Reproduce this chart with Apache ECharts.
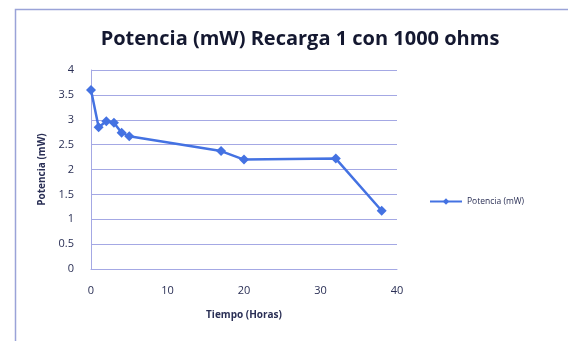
<!DOCTYPE html>
<html><head><meta charset="utf-8">
<script src="https://cdn.jsdelivr.net/npm/echarts@6/dist/echarts.min.js"></script>
<style>html,body{margin:0;padding:0;background:#fff}#c{width:568px;height:341px}</style>
</head><body><div id="c"></div>
<script>
const hours = [0, 1, 2, 3, 4, 5, 17, 20, 32, 38];
const power = [3.6, 2.85, 2.97, 2.94, 2.74, 2.67, 2.37, 2.2, 2.22, 1.17];
const seriesName = 'Potencia (mW)';
const titleText = 'Potencia (mW) Recarga 1 con 1000 ohms';
const xName = 'Tiempo (Horas)';
const yName = 'Potencia (mW)';

const chart = echarts.init(document.getElementById('c'));
const blue = '#4472e2';
const grid = '#a4a8e4';
const font = '"Open Sans", "DejaVu Sans", sans-serif';
chart.setOption({
  animation: false,
  graphic: [{
    type: 'rect', left: 13, top: 7, shape: {width: 570, height: 345},
    style: {fill: 'none', stroke: '#9aa3d8', lineWidth: 1.5}
  }],
  title: {
    text: titleText, left: 295, top: 24, textAlign: 'center',
    textStyle: {fontFamily: font, fontSize: 20, fontWeight: 'bold', color: '#141830'}
  },
  legend: {
    data: [seriesName], left: 424, top: 192, itemWidth: 32, itemHeight: 8, itemGap: 2,
    textStyle: {fontFamily: font, fontSize: 8.5, color: '#2a2f55'}
  },
  grid: {left: 91, right: 171, top: 70, bottom: 72},
  xAxis: {
    type: 'value', min: 0, max: 40, interval: 10,
    name: xName, nameLocation: 'middle', nameGap: 41,
    nameTextStyle: {fontFamily: font, fontSize: 10, fontWeight: 'bold', color: '#2a2f55'},
    axisLine: {lineStyle: {color: grid}}, axisTick: {show: false},
    axisLabel: {fontFamily: font, fontSize: 11, color: '#2a2f55', margin: 16},
    splitLine: {show: false}
  },
  yAxis: {
    type: 'value', min: 0, max: 4, interval: 0.5,
    name: yName, nameLocation: 'middle', nameGap: 35,
    nameTextStyle: {fontFamily: font, fontSize: 10, fontWeight: 'bold', color: '#2a2f55'},
    axisLine: {show: true, lineStyle: {color: grid}}, axisTick: {show: false},
    axisLabel: {fontFamily: font, fontSize: 11, color: '#2a2f55', margin: 17},
    splitLine: {lineStyle: {color: grid, width: 1}}
  },
  series: [{
    name: seriesName, type: 'line', data: hours.map((h, i) => [h, power[i]]),
    symbol: 'diamond', symbolSize: 10, showAllSymbol: true,
    lineStyle: {color: blue, width: 2.5}, itemStyle: {color: blue}
  }]
});
</script></body></html>
